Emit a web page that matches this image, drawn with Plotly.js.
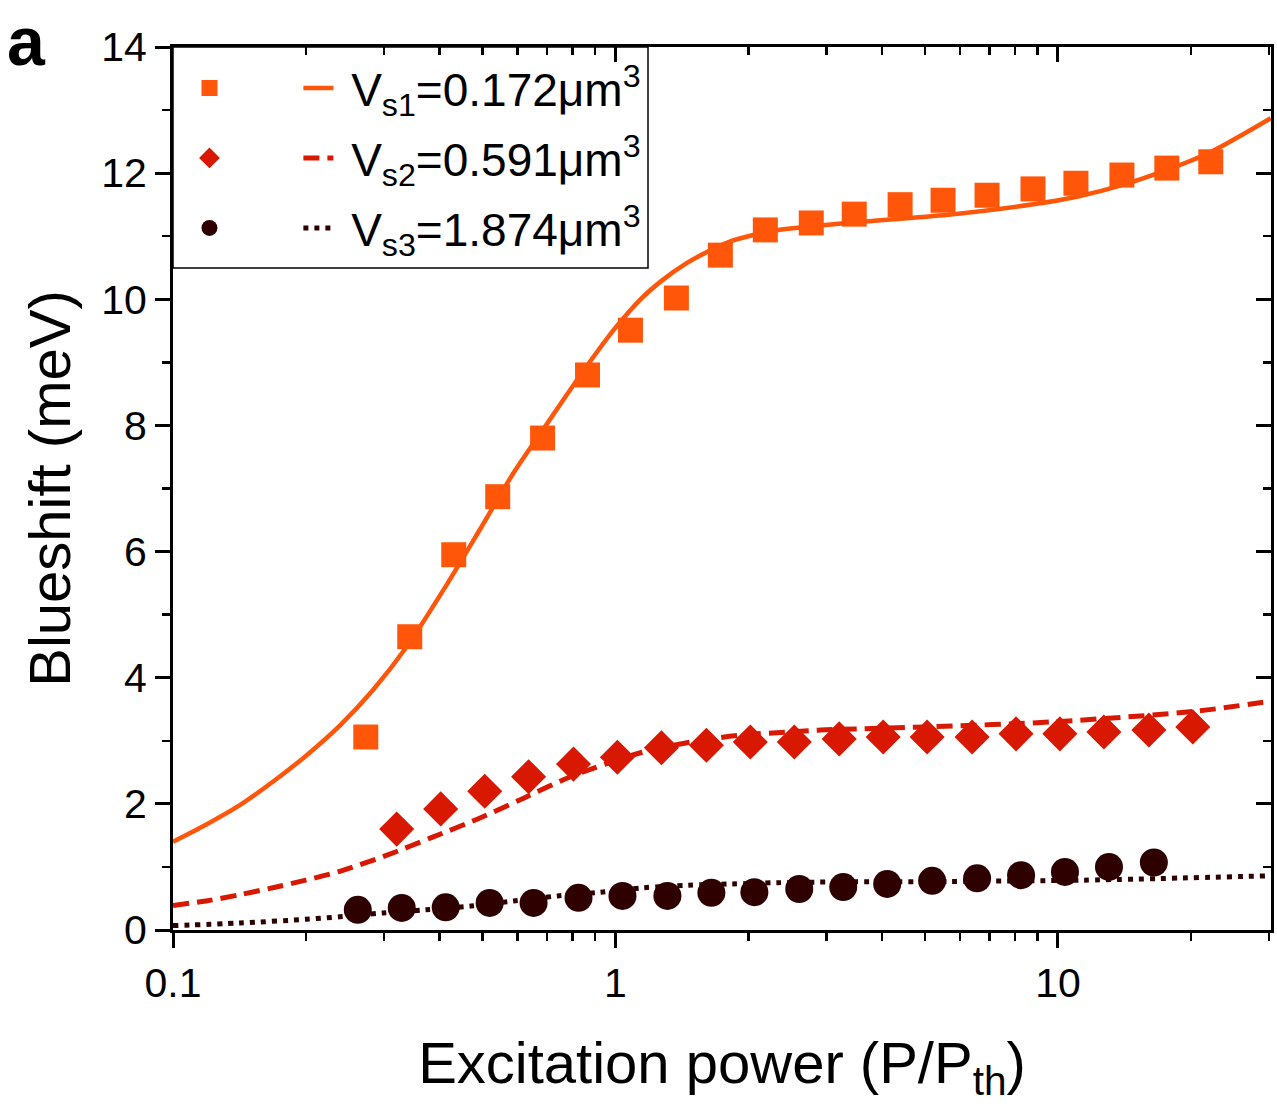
<!DOCTYPE html>
<html><head><meta charset="utf-8">
<script src="https://cdn.plot.ly/plotly-3.0.1.min.js"></script>
<style>body{margin:0;background:#fff}</style>
</head><body>
<div id="chart" style="width:1277px;height:1104px"></div>
<script>
const powerS1 = [0.2727,0.3428,0.4310,0.5418,0.6843,0.8646,1.081,1.373,1.726,2.181,2.770,3.464,4.398,5.499,6.914,8.781,10.98,13.95,17.62,22.15];
const shiftS1 = [3.06,4.65,5.95,6.87,7.80,8.80,9.51,10.02,10.70,11.10,11.21,11.35,11.50,11.57,11.65,11.75,11.84,11.97,12.08,12.18];

const powerS2 = [0.3203,0.4027,0.5064,0.6363,0.8038,1.010,1.270,1.605,2.017,2.536,3.203,4.027,5.062,6.397,8.04,10.10,12.70,16.05,20.17];
const shiftS2 = [1.60,1.92,2.20,2.43,2.63,2.74,2.89,2.93,2.98,2.98,3.03,3.06,3.06,3.06,3.11,3.11,3.14,3.17,3.22];

const powerS3 = [0.2616,0.3288,0.4133,0.5195,0.6530,0.8250,1.037,1.310,1.647,2.060,2.602,3.271,4.112,5.195,6.565,8.253,10.37,13.04,16.47];
const shiftS3 = [0.32,0.35,0.36,0.43,0.43,0.51,0.54,0.54,0.59,0.60,0.65,0.68,0.73,0.78,0.82,0.87,0.92,1.00,1.07];

// fit curves
const fitX1 = [0.1,0.1187,0.1416,0.1681,0.1996,0.2382,0.2828,0.3357,0.4176,0.4958,0.5886,0.7023,0.8337,0.9897,1.139,1.264,1.454,1.664,1.818,2.285,2.9,3.592,5.645,8.873,11.10,13.95,17.44,21.92,30.26];
const fitY1 = [1.40,1.67,1.98,2.35,2.76,3.24,3.80,4.47,5.50,6.37,7.25,8.04,8.80,9.51,10.00,10.28,10.58,10.80,10.92,11.09,11.17,11.23,11.34,11.51,11.63,11.81,12.04,12.32,12.87];

const fitX2 = [0.1,0.1187,0.1416,0.1681,0.1996,0.2382,0.3056,0.3823,0.4882,0.6199,0.7916,1.139,1.476,1.915,2.483,2.903,5.06,9.74,20.6,30.26];
const fitY2 = [0.39,0.46,0.56,0.67,0.79,0.93,1.19,1.46,1.76,2.09,2.43,2.81,2.98,3.09,3.14,3.17,3.22,3.30,3.47,3.63];

const fitX3 = [0.1,0.1416,0.1996,0.2382,0.2978,0.3725,0.4708,0.5886,0.7398,0.9249,1.157,1.462,1.837,2.322,2.903,5.70,11.39,30.26];
const fitY3 = [0.07,0.11,0.17,0.21,0.27,0.32,0.38,0.46,0.54,0.60,0.67,0.71,0.73,0.75,0.76,0.77,0.79,0.86];

const seriesNames = ['V<sub>s1</sub>=0.172μm<sup>3</sup>','V<sub>s2</sub>=0.591μm<sup>3</sup>','V<sub>s3</sub>=1.874μm<sup>3</sup>'];
const xTickVals = [0.1, 1, 10];
const xTickText = ['0.1', '1', '10'];
const yTickVals = [0, 2, 4, 6, 8, 10, 12, 14];

const cOrange = '#ff560a', cRed = '#d81800', cDark = '#2e0000';
const FONT = 'Liberation Sans, Arial, sans-serif';
const NB = '\u00a0';
const markerLabel = NB + NB + NB + NB + NB;

const traces = [
  {x: fitX1, y: fitY1, mode: 'lines', line: {color: cOrange, width: 4.5, shape: 'spline', smoothing: 0.8}, name: NB + seriesNames[0], legend: 'legend', legendrank: 2, hoverinfo: 'skip'},
  {x: fitX2, y: fitY2, mode: 'lines', line: {color: cRed, width: 5, dash: '16px,8px', shape: 'spline', smoothing: 0.8}, name: NB + seriesNames[1], legend: 'legend2', legendrank: 2, hoverinfo: 'skip'},
  {x: fitX3, y: fitY3, mode: 'lines', line: {color: cDark, width: 5, dash: '5px,6px', shape: 'spline', smoothing: 0.8}, name: NB + seriesNames[2], legend: 'legend3', legendrank: 2, hoverinfo: 'skip'},
  {x: powerS1, y: shiftS1, mode: 'markers', marker: {symbol: 'square', size: 25, color: cOrange}, name: markerLabel, legend: 'legend', legendrank: 1},
  {x: powerS2, y: shiftS2, mode: 'markers', marker: {symbol: 'diamond', size: 27, color: cRed}, name: markerLabel, legend: 'legend2', legendrank: 1},
  {x: powerS3, y: shiftS3, mode: 'markers', marker: {symbol: 'circle', size: 28, color: cDark}, name: markerLabel, legend: 'legend3', legendrank: 1}
];

const legBase = {orientation: 'h', x: 0.015, xanchor: 'left', yanchor: 'middle', bgcolor: 'rgba(0,0,0,0)', borderwidth: 0,
  font: {family: FONT, size: 46, color: '#000'}, itemwidth: 30, itemsizing: 'trace'};

const axCommon = {type: 'log', range: [-1, Math.log10(30.3)], showgrid: false, zeroline: false,
  showline: true, linecolor: '#000', linewidth: 3};

const layout = {
  width: 1277, height: 1104,
  margin: {l: 173, r: 6, t: 47, b: 174},
  paper_bgcolor: '#fff', plot_bgcolor: '#fff',
  font: {family: FONT, color: '#000'},
  showlegend: true,
  legend: Object.assign({}, legBase, {y: (930 - 88) / 883}),
  legend2: Object.assign({}, legBase, {y: (930 - 158) / 883}),
  legend3: Object.assign({}, legBase, {y: (930 - 228) / 883}),
  xaxis: Object.assign({}, axCommon, {
    tickmode: 'array', tickvals: xTickVals, ticktext: xTickText,
    ticks: 'outside', ticklen: 15, tickwidth: 3, tickcolor: '#000',
    minor: {ticks: 'outside', ticklen: 8, tickwidth: 2.5, tickcolor: '#000', dtick: 'D1', showgrid: false},
    tickfont: {family: FONT, size: 41, color: '#000'},
    title: {text: 'Excitation power (P/P<sub>th</sub>)', font: {family: FONT, size: 58, color: '#000'}, standoff: 38},
    anchor: 'y'
  }),
  yaxis: {range: [0, 14], showgrid: false, zeroline: false, showline: true, linecolor: '#000', linewidth: 3,
    tickmode: 'array', tickvals: yTickVals,
    ticks: 'outside', ticklen: 15, tickwidth: 3, tickcolor: '#000',
    minor: {ticks: 'outside', ticklen: 8, tickwidth: 2.5, tickcolor: '#000', dtick: 1, showgrid: false},
    tickfont: {family: FONT, size: 41, color: '#000'},
    title: {text: 'Blueshift (meV)', font: {family: FONT, size: 58, color: '#000'}, standoff: 12},
    anchor: 'x'
  },
  xaxis2: Object.assign({}, axCommon, {overlaying: 'x', side: 'top', anchor: 'y', matches: 'x',
    tickmode: 'array', tickvals: xTickVals, showticklabels: false,
    ticks: 'inside', ticklen: 15, tickwidth: 3, tickcolor: '#000',
    minor: {ticks: 'inside', ticklen: 8, tickwidth: 2.5, tickcolor: '#000', dtick: 'D1', showgrid: false}}),
  yaxis2: {overlaying: 'y', side: 'right', anchor: 'x', range: [0, 14], showgrid: false, zeroline: false,
    showline: true, linecolor: '#000', linewidth: 3, showticklabels: false,
    tickmode: 'array', tickvals: yTickVals,
    ticks: 'inside', ticklen: 15, tickwidth: 3, tickcolor: '#000',
    minor: {ticks: 'inside', ticklen: 8, tickwidth: 2.5, tickcolor: '#000', dtick: 1, showgrid: false}},
  shapes: [
    {type: 'rect', xref: 'paper', yref: 'paper', x0: 0, x1: (648 - 173) / 1098, y0: (930 - 268) / 883, y1: 1,
     line: {color: '#000', width: 1.5}, fillcolor: 'rgba(0,0,0,0)', layer: 'below'}
  ],
  annotations: [
    {text: '<b>a</b>', xref: 'paper', yref: 'paper', x: (26 - 173) / 1098, y: (930 - 1) / 883,
     xanchor: 'center', yanchor: 'top', showarrow: false, font: {family: FONT, size: 68, color: '#000'}}
  ]
};

// overlay axes (top/right inward ticks) need a trace to render: transparent copy of fit 1
traces.push({x: fitX1, y: fitY1, xaxis: 'x2', yaxis: 'y2', mode: 'lines', line: {color: 'rgba(0,0,0,0)', width: 0}, showlegend: false, hoverinfo: 'skip'});

Plotly.newPlot('chart', traces, layout, {displayModeBar: false, staticPlot: true});
</script>
</body></html>
